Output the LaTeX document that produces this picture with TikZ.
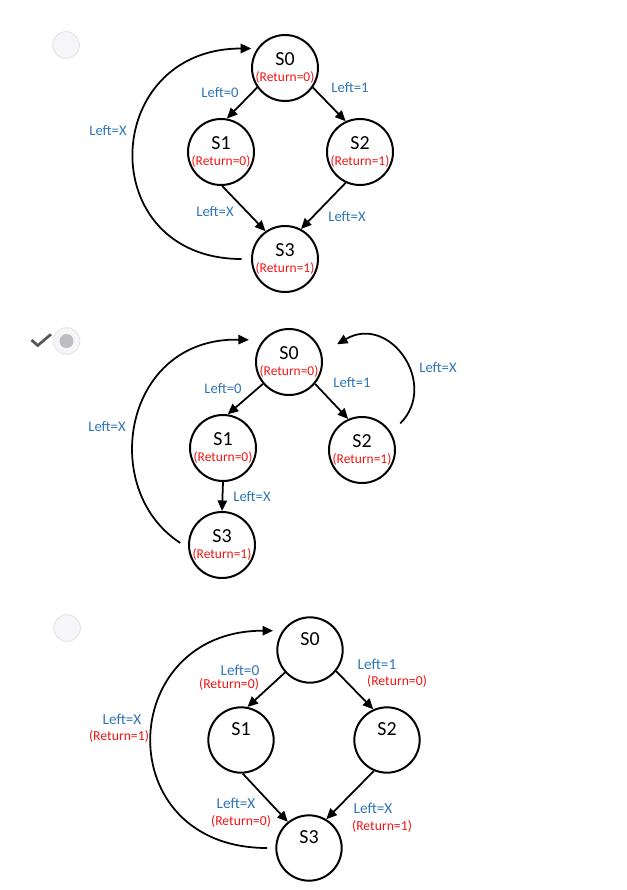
\documentclass[tikz,border=0pt]{standalone}
\usepackage{fontspec}
\setmainfont{Carlito}
\usetikzlibrary{arrows.meta}
\definecolor{lblue}{RGB}{46,117,182}
\definecolor{rred}{RGB}{240,20,20}
\definecolor{radioline}{RGB}{228,228,233}
\definecolor{radiofill}{RGB}{246,246,248}
\definecolor{dotgray}{RGB}{190,190,192}
\definecolor{checkgray}{RGB}{85,85,85}
\newcommand{\ret}[1]{{\fontsize{11.5}{11.5}\selectfont\color{rred}(#1)}}

\begin{document}
\begin{tikzpicture}[x=0.03cm,y=-0.03cm,
   state/.style={draw,circle,line width=1.7pt,minimum size=1.9cm,inner sep=0pt,
     align=center,font=\fontsize{17}{17}\selectfont},
   bigstate/.style={state,minimum size=1.96cm,text height=12pt,text depth=20pt},
   trans/.style={-{Triangle[length=9pt,width=8pt]},line width=1.5pt},
   lbl/.style={text=lblue,font=\fontsize{12.5}{14}\selectfont,inner sep=0pt},
   lblthree/.style={lbl,font=\fontsize{13}{14}\selectfont},
   retthree/.style={text=rred,font=\fontsize{11.7}{13}\selectfont,inner sep=0pt},
   radio/.style={draw=radioline,fill=radiofill,line width=0.8pt,circle,minimum size=0.8cm,inner sep=0pt}]
\useasboundingbox (0,0) rectangle (627,890);

% first choice
\node[radio] (r1) at (66,45) {};
\node[state] (a0) at (285,68) {S0\\[-4pt]\ret{Return=0}};
\node[state] (a1) at (221,152) {S1\\[-4pt]\ret{Return=0}};
\node[state] (a2) at (360,152) {S2\\[-4pt]\ret{Return=1}};
\node[state] (a3) at (285,259) {S3\\[-4pt]\ret{Return=1}};
\draw[trans] (a0.215) -- (a1.80);
\draw[trans] (a0.-35) -- (a2.115);
\draw[trans] (a1.-88) -- (a3.125);
\draw[trans] (a2.245) -- (a3.62);
\draw[trans,shorten <=8pt,shorten >=5pt] (a3.180) .. controls +(-158,0) and +(-158,0) .. (a0.145);
\node[lbl] (a01) at (220,93) {Left=0};
\node[lbl] (a02) at (350,88) {Left=1};
\node[lbl] (a30) at (108,131) {Left=X};
\node[lbl] (a13) at (215,212) {Left=X};
\node[lbl] (a23) at (347,217) {Left=X};

% second choice (ticked)
\draw[checkgray,line width=2.3pt] (31.5,340) -- (37.7,345.5) -- (51,334.3);
\node[radio] (r2) at (66.5,341) {};
\node[circle,fill=dotgray,minimum size=0.42cm,inner sep=0pt] (r2dot) at (r2) {};
\node[state] (b0) at (289,362) {S0\\[-4pt]\ret{Return=0}};
\node[state] (b1) at (223,448) {S1\\[-4pt]\ret{Return=0}};
\node[state] (b2) at (362,450) {S2\\[-4pt]\ret{Return=1}};
\node[state] (b3) at (222,545) {S3\\[-4pt]\ret{Return=1}};
\draw[trans] (b0.220) -- (b1.82);
\draw[trans] (b0.-40) -- (b2.114);
\draw[trans] (b1.south) -- (b3.north);
\draw[trans,shorten <=8pt,shorten >=12pt] (b3.185) .. controls +(-90,-58) and +(-140,-3) .. (b0.140);
\draw[trans,shorten <=11pt,shorten >=15pt] (b2.31) .. controls +(48,-48) and +(68,-40) .. (b0.15);
\node[lbl] (b01) at (223,389) {Left=0};
\node[lbl] (b02) at (352,383) {Left=1};
\node[lbl] (b30) at (107,427) {Left=X};
\node[lbl] (b13) at (252,497) {Left=X};
\node[lbl] (b20) at (438,368) {Left=X};

% third choice
\node[radio] (r3) at (67,628) {};
\node[bigstate] (c0) at (310,650) {S0};
\node[bigstate] (c1) at (241,740) {S1};
\node[bigstate] (c2) at (387,740) {S2};
\node[bigstate] (c3) at (309,848) {S3};
\draw[trans] (c0.222) -- (c1.79);
\draw[trans] (c0.-39) -- (c2.114);
\draw[trans] (c1.-87) -- (c3.129);
\draw[trans] (c2.-113) -- (c3.59);
\draw[trans,shorten <=7pt,shorten >=8pt] (c3.180) .. controls +(-167,0) and +(-167,0) .. (c0.145);
\node[lblthree] (c01) at (240,670) {Left=0};
\node[retthree] (c01r) at (229,684) {(Return=0)};
\node[lblthree] (c02) at (377,664) {Left=1};
\node[retthree] (c02r) at (397,681) {(Return=0)};
\node[lblthree] (c30) at (122,719) {Left=X};
\node[retthree] (c30r) at (119,736) {(Return=1)};
\node[lblthree] (c13) at (236,803) {Left=X};
\node[retthree] (c13r) at (241,821) {(Return=0)};
\node[lblthree] (c23) at (373,808) {Left=X};
\node[retthree] (c23r) at (382,826) {(Return=1)};
\end{tikzpicture}
\end{document}
